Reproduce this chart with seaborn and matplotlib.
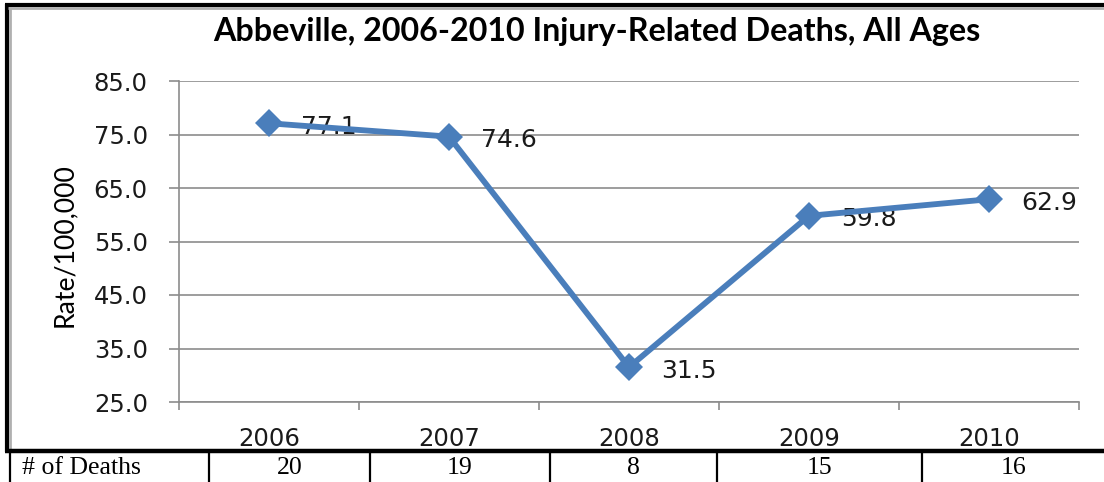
import matplotlib
matplotlib.use("Agg")
import matplotlib.pyplot as plt
import seaborn as sns
import pandas as pd
from matplotlib.lines import Line2D
from matplotlib.ticker import FixedLocator

# ---- data ----
years = ["2006", "2007", "2008", "2009", "2010"]
rates = [77.1, 74.6, 31.5, 59.8, 62.9]
deaths = ["20", "19", "8", "15", "16"]
yticks = [25.0, 35.0, 45.0, 55.0, 65.0, 75.0, 85.0]
title = "Abbeville, 2006-2010 Injury-Related Deaths, All Ages"
ylabel = "Rate/100,000"
row_label = "# of Deaths"

W, H = 1104, 482
sns.set_theme(style="white")
plt.rcParams["font.family"] = ["DejaVu Sans"]

fig = plt.figure(figsize=(W / 100, H / 100), dpi=100)
fig.patch.set_facecolor("white")

# overlay axes in pixel coordinates for borders and table
ov = fig.add_axes([0, 0, 1, 1], zorder=0)
ov.set_xlim(0, W)
ov.set_ylim(H, 0)
ov.axis("off")
ov.patch.set_alpha(0)

def hline(y, x0, x1, lw, color="black"):
    ov.add_line(Line2D([x0, x1], [y, y], lw=lw, color=color, solid_capstyle="butt"))

def vline(x, y0, y1, lw, color="black"):
    ov.add_line(Line2D([x, x], [y0, y1], lw=lw, color=color, solid_capstyle="butt"))

# chart frame (black outer + gray inner)
hline(5, 5, W, 3.0)
vline(6.5, 3.5, 452, 3.0)
hline(8, 8, W, 2.0, "#b0b0b0")
vline(9.5, 7, 450, 2.0, "#b0b0b0")

# table
hline(451, 5, W, 3.2)
col_edges = [10, 209, 370, 550, 717, 922, W + 2]
for x in col_edges[:-1]:
    vline(x, 451, H, 1.6)
cell_font = dict(family="Liberation Serif", fontsize=18.5, color="black")
ov.text(22, 468, row_label, ha="left", va="center", **cell_font)
for i, d in enumerate(deaths):
    cx = (col_edges[i + 1] + col_edges[i + 2]) / 2
    ov.text(cx, 468, d, ha="center", va="center", **cell_font)

# plot axes
x0, x1, yt, yb = 179, 1079, 81, 402
ax = fig.add_axes([x0 / W, (H - yb) / H, (x1 - x0) / W, (yb - yt) / H], zorder=2)
ax.patch.set_alpha(0)

df = pd.DataFrame({"pos": list(range(len(years))), "rate": rates})
blue = "#4A7EBB"
sns.lineplot(data=df, x="pos", y="rate", ax=ax, color=blue, linewidth=4.2,
             marker="D", markersize=14, markeredgecolor=blue, markeredgewidth=0)

ax.set_xlim(-0.5, len(years) - 0.5)
ax.set_ylim(min(yticks), max(yticks))
ax.set_yticks(yticks)
ax.set_yticklabels([f"{v:.1f}" for v in yticks])
ax.set_xticks(range(len(years)))
ax.set_xticklabels(years)
ax.xaxis.set_minor_locator(FixedLocator([i - 0.5 for i in range(len(years) + 1)]))

gray = "#8c8c8c"
ax.grid(axis="y", color=gray, linewidth=1.2)
ax.grid(axis="x", visible=False)
for s in ["top", "right"]:
    ax.spines[s].set_visible(False)
for s in ["left", "bottom"]:
    ax.spines[s].set_color(gray)
    ax.spines[s].set_linewidth(1.2)

ax.tick_params(axis="y", which="major", direction="out", length=7.5, width=1.2,
               color=gray, labelsize=17.5, pad=15, labelcolor="#1a1a1a", left=True)
ax.tick_params(axis="x", which="major", length=0, labelsize=17.5, pad=18,
               labelcolor="#1a1a1a")
ax.tick_params(axis="x", which="minor", direction="out", length=6, width=1.2,
               color=gray, bottom=True)
ax.set_xlabel("")
ax.set_ylabel("")

# data labels
for i, v in enumerate(rates):
    ax.annotate(f"{v:.1f}", (i, v), xytext=(23, -2.5), textcoords="offset points",
                ha="left", va="center", fontsize=18, color="#1a1a1a", zorder=1)

# title and y label, fitted to the reference widths
fig.canvas.draw()
renderer = fig.canvas.get_renderer()

def fit(t, target, horizontal=True):
    for _ in range(6):
        bb = t.get_window_extent(renderer)
        cur = bb.width if horizontal else bb.height
        t.set_fontsize(t.get_fontsize() * target / cur)

tt = ov.text(597, 31, title, ha="center", va="center", family="Lato",
             fontweight="bold", fontsize=20, color="black")
fit(tt, 767)
yl = ov.text(64, 245, ylabel, ha="center", va="center", rotation=90,
             family="Lato", fontsize=16, color="black")
fit(yl, 164, horizontal=False)

fig.savefig("out.png", dpi=100, facecolor="white")
